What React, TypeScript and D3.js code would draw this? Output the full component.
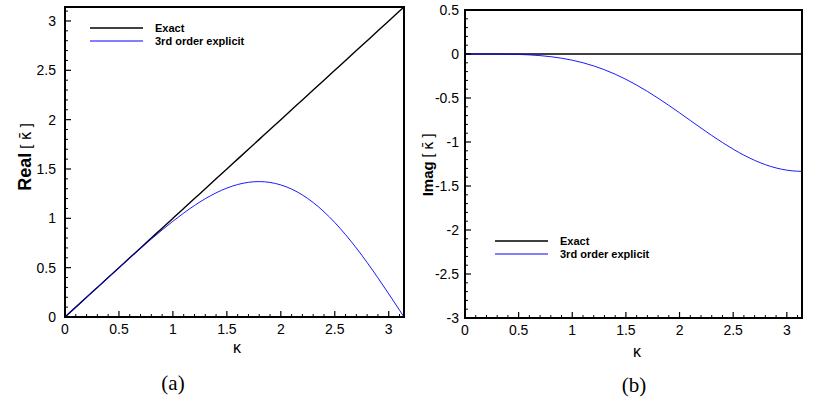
import React from "react";
import * as d3 from "d3";

const kappa = [0, 0.1, 0.2, 0.3, 0.4, 0.5, 0.6, 0.7, 0.8, 0.9, 1.0, 1.1, 1.2, 1.3, 1.4, 1.5, 1.6, 1.7, 1.8, 1.9, 2.0, 2.1, 2.2, 2.3, 2.4, 2.5, 2.6, 2.7, 2.8, 2.9, 3.0, 3.1, 3.14159];
const realExact = [0, 0.1, 0.2, 0.3, 0.4, 0.5, 0.6, 0.7, 0.8, 0.9, 1.0, 1.1, 1.2, 1.3, 1.4, 1.5, 1.6, 1.7, 1.8, 1.9, 2.0, 2.1, 2.2, 2.3, 2.4, 2.5, 2.6, 2.7, 2.8, 2.9, 3.0, 3.1, 3.14159];
const realExplicit3 = [0, 0.1, 0.2, 0.2999, 0.3997, 0.499, 0.5975, 0.6947, 0.7899, 0.8821, 0.9704, 1.0535, 1.1301, 1.1988, 1.2581, 1.3065, 1.3425, 1.3648, 1.3722, 1.3637, 1.3385, 1.2962, 1.2366, 1.1599, 1.0666, 0.9578, 0.8346, 0.6986, 0.5519, 0.3964, 0.2347, 0.0693, 0];
const imagExact = [0, 0, 0, 0, 0, 0, 0, 0, 0, 0, 0, 0, 0, 0, 0, 0, 0, 0, 0, 0, 0, 0, 0, 0, 0, 0, 0, 0, 0, 0, 0, 0, 0];
const imagExplicit3 = [0, -0.00001, -0.00013, -0.00067, -0.0021, -0.005, -0.0102, -0.0184, -0.0307, -0.0477, -0.0704, -0.0995, -0.1355, -0.1789, -0.2297, -0.2878, -0.3531, -0.4248, -0.502, -0.5837, -0.6685, -0.7549, -0.8411, -0.9255, -1.0062, -1.0814, -1.1493, -1.2085, -1.2574, -1.2949, -1.32, -1.3322, -1.3333];

const xTicks = [0, 0.5, 1, 1.5, 2, 2.5, 3];
const realTicks = [0, 0.5, 1, 1.5, 2, 2.5, 3];
const imagTicks = [0.5, 0, -0.5, -1, -1.5, -2, -2.5, -3];
const seriesNames = ["Exact", "3rd order explicit"];
const seriesColors = ["#000000", "#0000ff"];

const tickFont = "'Liberation Sans', Arial, sans-serif";

type PanelProps = {
  left: number; right: number; top: number; bottom: number;
  yDomain: [number, number];
  yTicks: number[];
  exact: number[]; approx: number[];
  yLabelBold: string; yLabelX: number; yLabelY: number; yLabelSize: number; yLabelSub: number;
  tickGap: number;
  legendX: number; legendY: number;
  xLabelX: number; xLabelY: number; caption: string; captionX: number; captionY: number;
};

function Panel(p: PanelProps) {
  const x = d3.scaleLinear().domain([0, Math.PI]).range([p.left, p.right]);
  const y = d3.scaleLinear().domain(p.yDomain).range([p.bottom, p.top]);
  const line = (vals: number[]) =>
    d3.line<number>().x((_, i) => x(kappa[i])).y((v) => y(v)).curve(d3.curveMonotoneX)(vals) || "";
  const xMinor = d3.range(0, Math.PI, 0.1).filter((v) => Math.abs(v * 2 - Math.round(v * 2)) > 1e-6);
  const yMinor = d3.range(Math.ceil(p.yDomain[0] * 10), Math.floor(p.yDomain[1] * 10) + 1)
    .map((v) => v / 10)
    .filter((v) => Math.abs(v * 2 - Math.round(v * 2)) > 1e-6);
  return (
    <g>
      <defs>
        <clipPath id={"clip" + p.caption}>
          <rect x={p.left} y={p.top} width={p.right - p.left} height={p.bottom - p.top} />
        </clipPath>
      </defs>
      <g clipPath={`url(#clip${p.caption})`}>
        <path d={line(p.exact)} fill="none" stroke={seriesColors[0]} strokeWidth={1.4} />
        <path d={line(p.approx)} fill="none" stroke={seriesColors[1]} strokeWidth={0.9} />
      </g>
      {xTicks.map((t) => (
        <line key={"xt" + t} x1={x(t)} x2={x(t)} y1={p.bottom} y2={p.bottom - 6} stroke="#000" strokeWidth={1.2} />
      ))}
      {xMinor.map((t) => (
        <line key={"xm" + t} x1={x(t)} x2={x(t)} y1={p.bottom} y2={p.bottom - 3} stroke="#000" strokeWidth={1} />
      ))}
      {p.yTicks.map((t) => (
        <line key={"yt" + t} x1={p.left} x2={p.left + 6} y1={y(t)} y2={y(t)} stroke="#000" strokeWidth={1.2} />
      ))}
      {yMinor.map((t) => (
        <line key={"ym" + t} x1={p.left} x2={p.left + 3} y1={y(t)} y2={y(t)} stroke="#000" strokeWidth={1} />
      ))}
      <rect x={p.left} y={p.top} width={p.right - p.left} height={p.bottom - p.top} fill="none" stroke="#000" strokeWidth={2} />
      {xTicks.map((t) => (
        <text key={"xl" + t} x={x(t)} y={p.bottom + 17} textAnchor="middle" fontFamily={tickFont} fontSize={14}>{String(t)}</text>
      ))}
      {p.yTicks.map((t) => (
        <text key={"yl" + t} x={p.left - p.tickGap} y={y(t) + 5} textAnchor="end" fontFamily={tickFont} fontSize={14}>{String(t)}</text>
      ))}
      <text x={p.xLabelX} y={p.xLabelY} textAnchor="middle" fontFamily={tickFont} fontSize={16}>κ</text>
      <text transform={`translate(${p.yLabelX},${p.yLabelY}) rotate(-90)`} textAnchor="middle" fontFamily={tickFont} fontSize={p.yLabelSize}>
        <tspan fontWeight="bold">{p.yLabelBold}</tspan>
        <tspan fontSize={p.yLabelSub}>{" [ "}</tspan>
        <tspan fontSize={p.yLabelSub} fontFamily="'DejaVu Sans', sans-serif">κ̄</tspan>
        <tspan fontSize={p.yLabelSub}>{" ]"}</tspan>
      </text>
      {seriesNames.map((n, i) => (
        <g key={n}>
          <line x1={p.legendX} x2={p.legendX + 53} y1={p.legendY + i * 13} y2={p.legendY + i * 13} stroke={seriesColors[i]} strokeWidth={i === 0 ? 1.5 : 1} />
          <text x={p.legendX + 65} y={p.legendY + i * 13 + 4} fontFamily={tickFont} fontSize={11} fontWeight="bold">{n}</text>
        </g>
      ))}
      <text x={p.captionX} y={p.captionY} textAnchor="middle" fontFamily="'Liberation Serif', 'Times New Roman', serif" fontSize={21}>({p.caption})</text>
    </g>
  );
}

export default function App() {
  return (
    <svg width={823} height={400} style={{ position: "absolute", left: 0, top: 0, background: "#fff" }}>
      <rect x={0} y={0} width={823} height={400} fill="#fff" />
      <Panel left={65} right={404} top={7} bottom={317} yDomain={[0, Math.PI]} yTicks={realTicks}
        exact={realExact} approx={realExplicit3} yLabelBold="Real" yLabelX={31} yLabelY={157} yLabelSize={18} yLabelSub={15}
        tickGap={9} legendX={90} legendY={28} xLabelX={237} xLabelY={353} caption="a" captionX={173} captionY={390} />
      <Panel left={465} right={802} top={10} bottom={318} yDomain={[-3, 0.5]} yTicks={imagTicks}
        exact={imagExact} approx={imagExplicit3} yLabelBold="Imag" yLabelX={433} yLabelY={165} yLabelSize={15} yLabelSub={14}
        tickGap={6} legendX={495} legendY={241} xLabelX={637} xLabelY={357} caption="b" captionX={634} captionY={392} />
    </svg>
  );
}
